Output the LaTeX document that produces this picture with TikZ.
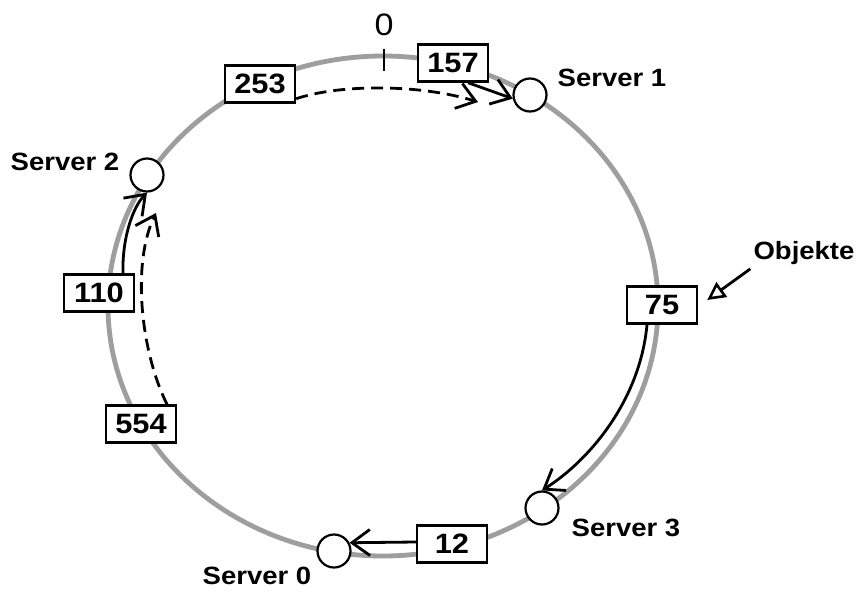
\documentclass[tikz,border=0pt]{standalone}
\usepackage{fontspec}
\newfontfamily\lab{Liberation Sans}[FakeStretch=1.1]
\usetikzlibrary{arrows.meta,calc}
\begin{document}
\begin{tikzpicture}[x=1pt,y=-1pt,
  ring/.style={draw=black!38, line width=4.8pt},
  numbox/.style={draw=black, line width=2.4pt, fill=white, minimum width=70pt, minimum height=37pt, inner sep=0pt, font=\lab\bfseries\fontsize{28}{30}\selectfont},
  srv/.style={draw=black, line width=2.2pt, fill=white, circle, minimum size=33pt, inner sep=0pt},
  slabel/.style={font=\lab\bfseries\fontsize{25}{30}\selectfont, inner sep=0pt},
  solidarrow/.style={draw=black, line width=2.8pt, -{Straight Barb[length=18pt,width=26pt,line width=2.8pt]}},
  dasharrow/.style={solidarrow, dash pattern=on 12pt off 7pt},
  objarrow/.style={draw=black, line width=2.8pt, -{Triangle[open,length=18pt,width=18pt,line width=2.6pt]}}
]
\useasboundingbox (0,0) rectangle (868,600);
\fill[white] (0,0) rectangle (868,600);

% ring
\coordinate (ctr) at (383,306);
\draw[ring] (ctr) ellipse [x radius=275, y radius=250];

% zero mark
\coordinate (tickA) at (384,49);
\coordinate (tickB) at (384,71);
\draw[line width=2.6pt] (tickA) -- (tickB);
\node[font=\lab\fontsize{31}{33}\selectfont, inner sep=0pt] (zero) at (384,25) {0};

% servers
\node[srv] (s1) at (530,95) {};
\node[srv] (s2) at (147,175) {};
\node[srv] (s3) at (542,508) {};
\node[srv] (s0) at (334,551) {};

\node[slabel] (l1) at (612,78) {Server 1};
\node[slabel] (l2) at (65,162) {Server 2};
\node[slabel] (l3) at (626,528) {Server 3};
\node[slabel] (l0) at (257,576) {Server 0};
\node[slabel] (obj) at (804,253) {Objekte};

% object boxes
\node[numbox] (b253) at (260,84) {253};
\node[numbox] (b157) at (453,63) {157};
\node[numbox] (b110) at (99,293) {110};
\node[numbox] (b554) at (141,424) {554};
\node[numbox] (b75) at (662,305) {75};
\node[numbox] (b12) at (452,544) {12};

% free ends of the dashed arrows
\coordinate (d1) at (478,102);
\coordinate (d2) at (156,213);

% connectors
\draw[dasharrow] ([yshift=5pt]b253.south east) .. controls (340,84) and (420,84) .. (d1);
\draw[solidarrow] ([xshift=15pt]b157.south) -- (s1.192);
\draw[solidarrow] ([xshift=24pt]b110.north) .. controls (122,240) and (132,208) .. (s2.south);
\draw[dasharrow] ([xshift=26pt]b554.north) .. controls (140,350) and (132,262) .. (d2);
\draw[solidarrow] ([xshift=-15pt]b75.south) .. controls (640,400) and (590,460) .. (s3.north);
\draw[solidarrow] ([yshift=2pt]b12.west) -- (s0.28);
\draw[objarrow] ([xshift=-3pt,yshift=-4pt]obj.south west) -- ([xshift=9pt,yshift=5pt]b75.east);
\end{tikzpicture}
\end{document}
